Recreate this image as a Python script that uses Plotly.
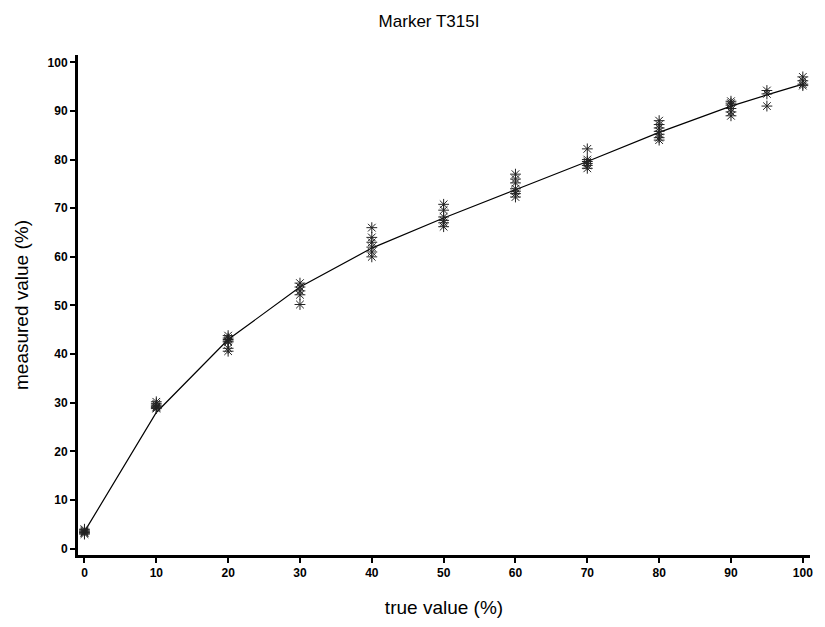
import plotly.graph_objects as go

# Replicate measurements per true value
true_levels = [0, 10, 20, 30, 40, 50, 60, 70, 80, 90, 95, 100]
measured = {
    0: [3.0, 3.2, 3.5, 3.8, 4.0, 3.3],
    10: [28.8, 29.2, 29.5, 29.8, 30.2, 29.0],
    20: [43.8, 43.3, 43.0, 42.7, 42.5, 41.2, 40.6],
    30: [54.6, 53.8, 53.0, 52.2, 50.2],
    40: [66.0, 64.0, 63.0, 62.0, 61.0, 60.0],
    50: [70.8, 69.6, 68.2, 67.5, 67.0, 66.2],
    60: [77.0, 76.0, 75.2, 74.0, 73.5, 73.0, 72.3],
    70: [82.2, 80.0, 79.6, 79.2, 78.8, 78.2],
    80: [88.0, 87.2, 86.5, 85.8, 85.2, 84.5, 84.0],
    90: [92.0, 91.6, 91.2, 90.5, 89.8, 89.0],
    95: [94.2, 93.5, 91.0],
    100: [97.0, 96.2, 95.5, 95.2],
}
# Fitted curve values
fit_y = [3.5, 28.0, 43.0, 53.8, 61.8, 68.0, 73.8, 79.6, 85.6, 91.0, 93.3, 95.5]

x_ticks = [0, 10, 20, 30, 40, 50, 60, 70, 80, 90, 100]
y_ticks = [0, 10, 20, 30, 40, 50, 60, 70, 80, 90, 100]

px_x, px_y = [], []
for t in true_levels:
    for v in measured[t]:
        px_x.append(t)
        px_y.append(v)

fig = go.Figure()
fig.add_trace(go.Scatter(
    x=true_levels, y=fit_y, mode="lines",
    line=dict(color="black", width=1.2), showlegend=False, hoverinfo="skip"))
fig.add_trace(go.Scatter(
    x=px_x, y=px_y, mode="markers",
    marker=dict(symbol="asterisk-open", size=9, color="#222",
                line=dict(color="#222", width=1)),
    showlegend=False))

axis_common = dict(
    showgrid=False, zeroline=False, showline=True, linecolor="black", linewidth=3,
    ticks="outside", ticklen=5, tickwidth=1.5, tickcolor="black",
    tickfont=dict(family="Liberation Sans, Arial", size=12, color="black", weight="bold"),
)

fig.update_layout(
    width=825, height=627,
    paper_bgcolor="white", plot_bgcolor="white",
    margin=dict(l=78, r=15, t=55, b=72),
    title=dict(text="Marker T315I", x=0.52, xanchor="center", y=0.966, yanchor="middle",
               font=dict(family="Liberation Sans, Arial", size=17, color="black")),
    xaxis=dict(range=[-0.9, 101.0], tickvals=x_ticks,
               title=dict(text="true value (%)", standoff=22,
                          font=dict(family="Liberation Sans, Arial", size=19, color="black")),
               **axis_common),
    yaxis=dict(range=[-1.3, 101.5], tickvals=y_ticks,
               title=dict(text="measured value (%)", standoff=14,
                          font=dict(family="Liberation Sans, Arial", size=19, color="black")),
               **axis_common),
)

fig.write_html("out.html")
